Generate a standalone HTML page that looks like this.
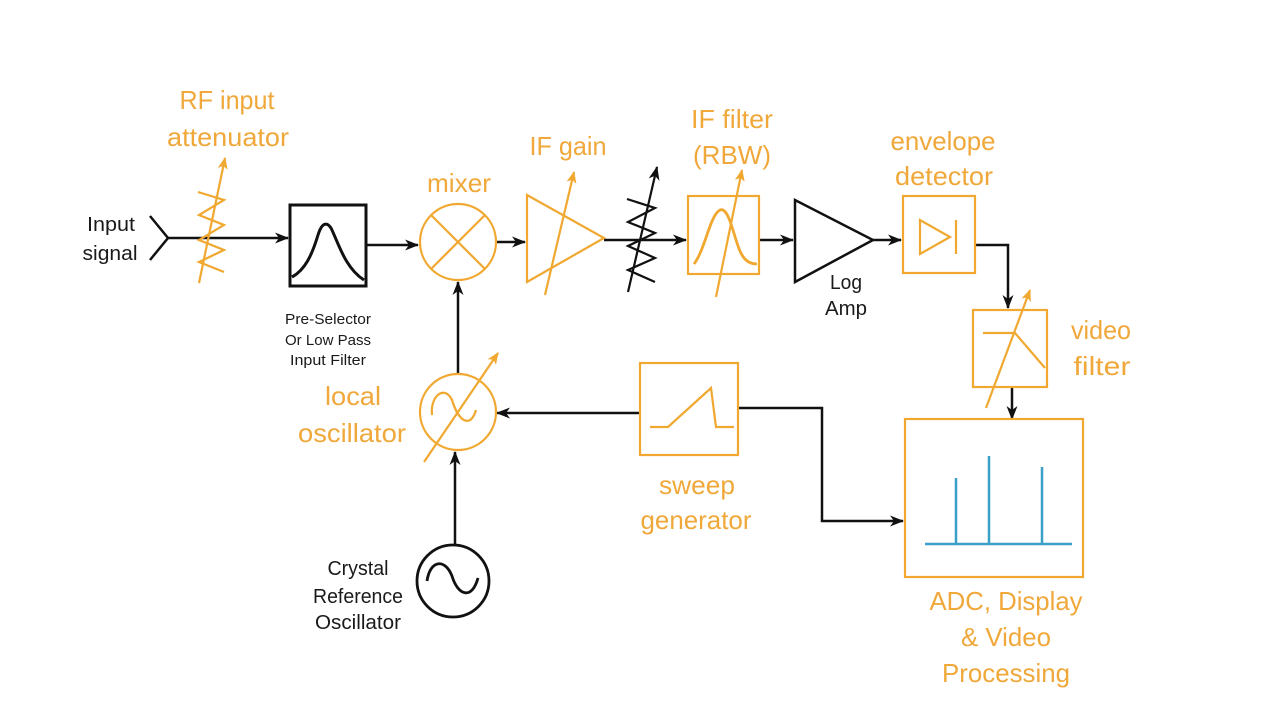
<!DOCTYPE html>
<html><head><meta charset="utf-8"><style>
html,body{margin:0;padding:0;background:#fff;}
svg{display:block;}
text{font-family:"Liberation Sans Narrow","Liberation Sans",sans-serif;}
.o{fill:#f0a83a;font-size:26px;text-anchor:middle;}
.k{fill:#1a1a1a;font-size:20px;text-anchor:middle;}
</style></head><body>
<svg width="1280" height="720" viewBox="0 0 1280 720" xmlns="http://www.w3.org/2000/svg">
<defs>
<marker id="ab" markerWidth="14" markerHeight="11" refX="13" refY="5.5" orient="auto" markerUnits="userSpaceOnUse"><path d="M0,0 L14,5.5 L0,11 L4,5.5 Z" fill="#111"/></marker>
<marker id="ao" markerWidth="12" markerHeight="10" refX="11" refY="5" orient="auto" markerUnits="userSpaceOnUse"><path d="M0,0 L12,5 L0,10 L3,5 Z" fill="#f0a830"/></marker>
</defs>
<g stroke="#111" stroke-width="2.5" fill="none">
<path d="M150,216 L168,238 L150,260"/>
<line x1="168" y1="238" x2="288" y2="238" marker-end="url(#ab)"/>
<rect x="290" y="205" width="76" height="81" stroke-width="3"/>
<path d="M292,277 C305,270 312,255 318,235 C322,222 327,222 331,228 C338,242 345,268 364,280" stroke-width="3"/>
<line x1="366" y1="245" x2="418" y2="245" marker-end="url(#ab)"/>
<line x1="496" y1="242" x2="525" y2="242" marker-end="url(#ab)"/>
<line x1="604" y1="240" x2="686" y2="240" marker-end="url(#ab)"/>
<polyline points="627,199 655,208 628,222 655,233 628,246 655,258 628,270 655,282" stroke-width="2.2"/>
<line x1="628" y1="292" x2="657" y2="167" stroke-width="2.2" marker-end="url(#ab)"/>
<line x1="759" y1="240" x2="793" y2="240" marker-end="url(#ab)"/>
<path d="M795,200 L795,282 L873,240 Z"/>
<line x1="873" y1="240" x2="901" y2="240" marker-end="url(#ab)"/>
<path d="M975,245 L1008,245 L1008,308" marker-end="url(#ab)"/>
<line x1="1012" y1="388" x2="1012" y2="419" marker-end="url(#ab)"/>
<line x1="458" y1="373" x2="458" y2="282" marker-end="url(#ab)"/>
<line x1="640" y1="413" x2="497" y2="413" marker-end="url(#ab)"/>
<path d="M738,408 L822,408 L822,521 L903,521" marker-end="url(#ab)"/>
<line x1="455" y1="545" x2="455" y2="452" marker-end="url(#ab)"/>
<circle cx="453" cy="581" r="36" stroke-width="2.8"/>
<path d="M427,581 C430,560 445,558 452,576 C458,596 472,600 478,578" stroke-width="2.8"/>
</g>
<g stroke="#f0a830" stroke-width="2.2" fill="none">
<polyline points="198,192 224,200 199,215 224,225 199,240 224,250 199,262 224,272"/>
<line x1="199" y1="283" x2="225" y2="158" marker-end="url(#ao)"/>
<circle cx="458" cy="242" r="38"/>
<line x1="431" y1="215" x2="485" y2="269"/><line x1="485" y1="215" x2="431" y2="269"/>
<path d="M527,195 L527,282 L604,238 Z"/>
<line x1="545" y1="295" x2="574" y2="172" marker-end="url(#ao)"/>
<rect x="688" y="196" width="71" height="78"/>
<path d="M694,264 C705,250 710,215 720,210 C730,206 735,245 742,255 C746,262 752,264 757,264" stroke-width="2.8"/>
<line x1="716" y1="297" x2="742" y2="170" marker-end="url(#ao)"/>
<rect x="903" y="196" width="72" height="77"/>
<path d="M920,220 L920,254 L950,237 Z"/><line x1="956" y1="220" x2="956" y2="254"/>
<rect x="973" y="310" width="74" height="77"/>
<path d="M983,333 L1015,333 L1045,368"/>
<line x1="986" y1="408" x2="1030" y2="290" marker-end="url(#ao)"/>
<rect x="905" y="419" width="178" height="158"/>
<circle cx="458" cy="412" r="38"/>
<path d="M432,415 C430,395 445,385 452,400 C458,420 470,430 476,410"/>
<line x1="424" y1="462" x2="498" y2="353" marker-end="url(#ao)"/>
<rect x="640" y="363" width="98" height="92"/>
<path d="M650,427 L668,427 L711,388 L716,427 L734,427"/>
</g>
<g stroke="#3aa0c8" stroke-width="2.5">
<line x1="925" y1="544" x2="1072" y2="544"/>
<line x1="956" y1="544" x2="956" y2="478"/>
<line x1="989" y1="544" x2="989" y2="456"/>
<line x1="1042" y1="544" x2="1042" y2="467"/>
</g>
<text class="o" x="227" y="109" textLength="95" lengthAdjust="spacingAndGlyphs">RF input</text>
<text class="o" x="228" y="146" textLength="122" lengthAdjust="spacingAndGlyphs">attenuator</text>
<text class="o" x="459" y="192" textLength="64" lengthAdjust="spacingAndGlyphs">mixer</text>
<text class="o" x="568" y="155" textLength="77" lengthAdjust="spacingAndGlyphs">IF gain</text>
<text class="o" x="732" y="128" textLength="82" lengthAdjust="spacingAndGlyphs">IF filter</text>
<text class="o" x="732" y="164" textLength="78" lengthAdjust="spacingAndGlyphs">(RBW)</text>
<text class="o" x="943" y="150" textLength="105" lengthAdjust="spacingAndGlyphs">envelope</text>
<text class="o" x="944" y="185" textLength="98" lengthAdjust="spacingAndGlyphs">detector</text>
<text class="o" x="1101" y="339" textLength="60" lengthAdjust="spacingAndGlyphs">video</text>
<text class="o" x="1102" y="375" textLength="57" lengthAdjust="spacingAndGlyphs">filter</text>
<text class="o" x="353" y="405" textLength="56" lengthAdjust="spacingAndGlyphs">local</text>
<text class="o" x="352" y="442" textLength="108" lengthAdjust="spacingAndGlyphs">oscillator</text>
<text class="o" x="697" y="494" textLength="76" lengthAdjust="spacingAndGlyphs">sweep</text>
<text class="o" x="696" y="529" textLength="111" lengthAdjust="spacingAndGlyphs">generator</text>
<text class="o" x="1006" y="610" textLength="153" lengthAdjust="spacingAndGlyphs">ADC, Display</text>
<text class="o" x="1006" y="646" textLength="90" lengthAdjust="spacingAndGlyphs">&amp; Video</text>
<text class="o" x="1006" y="682" textLength="128" lengthAdjust="spacingAndGlyphs">Processing</text>
<text class="k" x="111" y="231" textLength="48" lengthAdjust="spacingAndGlyphs">Input</text>
<text class="k" x="110" y="260" textLength="55" lengthAdjust="spacingAndGlyphs">signal</text>
<text class="k" x="846" y="289" textLength="32" lengthAdjust="spacingAndGlyphs">Log</text>
<text class="k" x="846" y="315" textLength="42" lengthAdjust="spacingAndGlyphs">Amp</text>
<text class="k" x="328" y="324" style="font-size:15px" textLength="86" lengthAdjust="spacingAndGlyphs">Pre-Selector</text>
<text class="k" x="328" y="345" style="font-size:15px" textLength="86" lengthAdjust="spacingAndGlyphs">Or Low Pass</text>
<text class="k" x="328" y="365" style="font-size:15px" textLength="76" lengthAdjust="spacingAndGlyphs">Input Filter</text>
<text class="k" x="358" y="575" textLength="61" lengthAdjust="spacingAndGlyphs">Crystal</text>
<text class="k" x="358" y="603" textLength="90" lengthAdjust="spacingAndGlyphs">Reference</text>
<text class="k" x="358" y="629" textLength="86" lengthAdjust="spacingAndGlyphs">Oscillator</text>
</svg>
</body></html>
